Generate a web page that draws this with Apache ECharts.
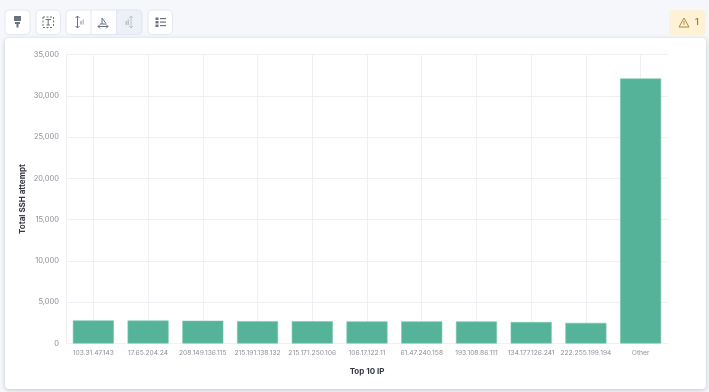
<!DOCTYPE html>
<html>
<head>
<meta charset="utf-8">
<style>
html, body { margin: 0; padding: 0; background: #f5f7fb; }
#chart { width: 709px; height: 392px; }
</style>
<script src="https://cdn.jsdelivr.net/npm/echarts@6/dist/echarts.min.js"></script>
</head>
<body>
<div id="chart"></div>
<script>
const categories = ['103.31.47.143', '17.65.204.24', '208.149.136.115', '215.191.138.132', '215.171.250.106',
  '106.17.122.11', '61.47.240.158', '193.108.86.111', '134.177.126.241', '222.255.199.194', 'Other'];
const attempts = [2800, 2780, 2760, 2710, 2700, 2680, 2680, 2670, 2600, 2500, 32100];
const yTicks = { min: 0, max: 35000, interval: 5000 };
const xName = 'Top 10 IP';
const yName = 'Total SSH attempt';

const font = 'Inter, "Noto Sans", sans-serif';
const iconDark = '#6a7280';
const iconLight = '#bcc3cf';

function box(x, w, fill) {
  return {
    type: 'rect', silent: true,
    shape: { x: x, y: 10, width: w, height: 24.5, r: 4 },
    style: { fill: fill || '#fff', stroke: '#e3e7ef', lineWidth: 1 }
  };
}
function bar(x, y, w, h, color) {
  return { type: 'rect', silent: true, shape: { x: x, y: y, width: w, height: h }, style: { fill: color } };
}
function seg(x1, y1, x2, y2, color, dash) {
  return {
    type: 'line', silent: true, shape: { x1: x1, y1: y1, x2: x2, y2: y2 },
    style: { stroke: color, lineWidth: 1, lineDash: dash || null }
  };
}

const toolbar = [
  // card
  {
    type: 'rect', silent: true,
    shape: { x: 5, y: 38, width: 701, height: 351, r: 4 },
    style: { fill: '#fff', shadowBlur: 4, shadowColor: 'rgba(70,80,100,0.3)', shadowOffsetY: 1 }
  },
  // buttons
  box(5, 25), box(36, 24.5), box(66, 76), box(116.5, 25, '#edf0f6'), box(148, 24.5),
  seg(91, 10, 91, 34.5, '#e3e7ef'), seg(116.5, 10, 116.5, 34.5, '#e3e7ef'),
  // paint brush
  bar(14, 16, 7, 5, iconDark), bar(15, 22, 5, 2, iconDark), bar(16.5, 24, 2, 3.5, iconDark),
  // text frame
  seg(43, 17, 53.5, 17, iconDark, [2, 1.5]), seg(43, 27.5, 53.5, 27.5, iconDark, [2, 1.5]),
  seg(43, 17, 43, 27.5, iconDark, [2, 1.5]), seg(53.5, 17, 53.5, 27.5, iconDark, [2, 1.5]),
  seg(45.5, 19.5, 51, 19.5, iconDark), seg(48.2, 19.5, 48.2, 25, iconDark), seg(46.5, 25, 50, 25, iconDark),
  // left axis
  seg(77.5, 16, 77.5, 28, iconDark), seg(75.5, 18, 77.5, 16, iconDark), seg(79.5, 18, 77.5, 16, iconDark),
  seg(75.5, 26, 77.5, 28, iconDark), seg(79.5, 26, 77.5, 28, iconDark),
  bar(80, 21, 2, 3.5, iconLight), bar(82.5, 19.5, 1.5, 5, iconLight),
  // bottom axis
  seg(98, 26.5, 108, 26.5, iconDark), seg(98, 26.5, 100, 24.5, iconDark), seg(98, 26.5, 100, 28.5, iconDark),
  seg(108, 26.5, 106, 24.5, iconDark), seg(108, 26.5, 106, 28.5, iconDark),
  seg(102, 18, 102, 24, iconDark), seg(102, 18, 106, 23.5, iconDark), seg(100, 24, 106, 24, iconDark),
  // right axis, selected
  seg(131, 16, 131, 28, iconLight), seg(129, 18, 131, 16, iconLight), seg(133, 18, 131, 16, iconLight),
  seg(129, 26, 131, 28, iconLight), seg(133, 26, 131, 28, iconLight),
  bar(125.5, 21, 1.5, 4, iconLight), bar(127.5, 19.5, 1.5, 5.5, iconLight),
  // legend list
  bar(155.5, 17.5, 3, 2.5, iconDark), bar(155.5, 21, 3, 2.5, iconDark), bar(155.5, 24.5, 3, 2.5, iconDark),
  bar(160, 18, 6, 1.2, iconDark), bar(160, 21.5, 6, 1.2, iconDark), bar(160, 25, 6, 1.2, iconDark),
  // warning badge
  {
    type: 'rect', silent: true,
    shape: { x: 669, y: 10, width: 37, height: 25, r: 4 },
    style: { fill: '#fdf2d5' }
  },
  {
    type: 'polygon', silent: true,
    shape: { points: [[684, 18], [679, 27], [689, 27]] },
    style: { fill: 'none', stroke: '#a98b3c', lineWidth: 1 }
  },
  seg(684, 21, 684, 24.8, '#a98b3c'),
  {
    type: 'text', silent: true, x: 695, y: 18,
    style: { text: '1', fill: '#a0802a', font: '600 9px ' + font }
  }
];

const myChart = echarts.init(document.getElementById('chart'));
myChart.setOption({
  animation: false,
  textStyle: { fontFamily: font },
  graphic: toolbar,
  grid: { left: 66, right: 41, top: 54.5, bottom: 48.5 },
  xAxis: {
    type: 'category',
    data: categories,
    name: xName,
    nameLocation: 'middle',
    nameGap: 24,
    nameTextStyle: { fontFamily: font, fontSize: 8, fontWeight: 'bold', color: '#343741' },
    axisLine: { lineStyle: { color: '#eef0f4' } },
    axisTick: { show: false },
    axisLabel: { interval: 0, fontSize: 6.7, color: '#8b9099', margin: 6, hideOverlap: false },
    splitLine: { show: true, alignWithLabel: true, lineStyle: { color: '#eef0f4' } }
  },
  yAxis: {
    type: 'value',
    min: yTicks.min,
    max: yTicks.max,
    interval: yTicks.interval,
    name: yName,
    nameLocation: 'middle',
    nameGap: 39,
    nameMoveOverlap: false,
    nameTextStyle: { fontFamily: font, fontSize: 8, fontWeight: 'bold', color: '#343741' },
    axisLine: { show: true, lineStyle: { color: '#eef0f4' } },
    axisTick: { show: false },
    axisLabel: {
      fontSize: 7.5, color: '#8b9099', margin: 7,
      formatter: (v) => v.toLocaleString('en-US')
    },
    splitLine: { show: true, lineStyle: { color: '#eef0f4' } }
  },
  series: [
    {
      type: 'bar',
      data: attempts,
      barWidth: '75%',
      itemStyle: { color: '#54b399', borderColor: '#7cc7b0', borderWidth: 0.6 }
    }
  ]
});
</script>
</body>
</html>
